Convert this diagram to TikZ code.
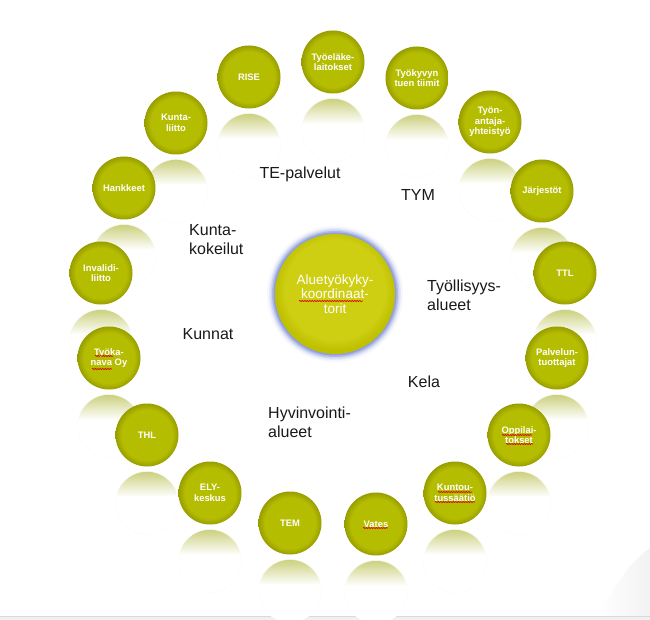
\documentclass[tikz,border=0pt]{standalone}
\usepackage{fontspec}
\setmainfont{Liberation Sans}
\usetikzlibrary{decorations.pathmorphing}
\definecolor{olv}{RGB}{181,189,0}
\definecolor{olvdark}{RGB}{152,158,0}
\definecolor{refl}{RGB}{203,208,125}
\definecolor{ctr}{RGB}{206,206,18}
\definecolor{ctrdark}{RGB}{190,192,0}
\definecolor{glow}{RGB}{110,130,215}
\definecolor{lbltext}{RGB}{25,25,25}
\pgfdeclareradialshading{ballshade}{\pgfpoint{0bp}{0bp}}{color(0bp)=(olv); color(20bp)=(olv); color(25bp)=(olvdark); color(50bp)=(olvdark)}
\pgfdeclareverticalshading{reflshade}{100bp}{color(0bp)=(white); color(55bp)=(white); color(75bp)=(refl); color(100bp)=(refl)}
\pgfdeclareradialshading{ctrshade}{\pgfpoint{0bp}{3bp}}{color(0bp)=(ctr); color(21bp)=(ctr); color(25bp)=(ctrdark); color(50bp)=(ctrdark)}
\begin{document}
\begin{tikzpicture}[x=1pt,y=-1pt,
  ball/.style={circle, minimum size=63pt, inner sep=0pt, shading=ballshade, text=white,
    font=\fontsize{9.4}{10.6}\selectfont\bfseries, align=center},
  reflball/.style={shading=reflshade},
  lbl/.style={font=\fontsize{16}{19}\selectfont, align=left, text=lbltext, inner sep=0pt},
  squig/.style={red!85!black, line width=0.6pt, decorate,
    decoration={snake, amplitude=0.6pt, segment length=2.5pt}}
]
\useasboundingbox (0,0) rectangle (650,620);
\fill[white] (0,0) rectangle (650,620);
% bottom right soft corner and bottom bar
\shade[left color=white, right color=gray!10] (598,616) .. controls (615,585) and (630,562) .. (650,548) -- (650,616) -- cycle;
\fill[gray!12] (0,616) rectangle (650,620);
\draw[gray!30, line width=0.6pt] (0,616) -- (650,616);

% reflections
\foreach \x/\y in {249/77, 333/62, 417/78, 490/122, 542/191, 565/273, 557/358, 519/435,
  455/493, 376/524, 290/523, 210/493, 147/435, 109/358, 101/273, 124/188, 176/123}{
  \path[reflball] (\x,\y+68) circle (31.5);
  \draw[gray!3, line width=0.4pt] (\x,\y+68) circle (31.5);
}

% outer balls
\node[ball] (rise) at (249,77) {RISE};
\node[ball] (tel) at (333,62) {Työeläke-\\laitokset};
\node[ball] (tyk) at (417,78) {Työkyvyn\\tuen tiimit};
\node[ball] (tyn) at (490,122) {Työn-\\antaja-\\yhteistyö};
\node[ball] (jar) at (542,191) {Järjestöt};
\node[ball] (ttl) at (565,273) {TTL};
\node[ball] (pal) at (557,358) {Palvelun-\\tuottajat};
\node[ball] (opp) at (519,435) {Oppilai-\\tokset};
\node[ball] (kun) at (455,493) {Kuntou-\\tussäätiö};
\node[ball] (vat) at (376,524) {Vates};
\node[ball] (tem) at (290,523) {TEM};
\node[ball] (ely) at (210,493) {ELY-\\keskus};
\node[ball] (thl) at (147,435) {THL};
\node[ball] (tka) at (109,358) {Työka-\\nava Oy};
\node[ball] (inv) at (101,273) {Invalidi-\\liitto};
\node[ball] (han) at (124,188) {Hankkeet};
\node[ball] (kli) at (176,123) {Kunta-\\liitto};

% central ball with glow
\foreach \r/\o in {68/0.06, 66/0.12, 64.5/0.2, 63/0.32, 61.5/0.48}{
  \fill[glow, opacity=\o] (335,294) circle (\r);
}
\node[circle, minimum size=120pt, inner sep=0pt, shading=ctrshade, text=white,
  font=\fontsize{13.5}{14.2}\selectfont, align=center] (ctr) at (335,294)
  {Aluetyökyky-\\koordinaat-\\torit};

% labels
\node[lbl] (tep) at (300,174) {TE-palvelut};
\node[lbl] (tym) at (418,195) {TYM};
\node[lbl, anchor=west] (kko) at (189,240) {Kunta-\\kokeilut};
\node[lbl, anchor=west] (tya) at (427,295) {Työllisyys-\\alueet};
\node[lbl] (kunnat) at (208,334) {Kunnat};
\node[lbl] (kela) at (424,382) {Kela};
\node[lbl, anchor=west] (hva) at (268,422.5) {Hyvinvointi-\\alueet};

% spell-check squiggles
\draw[squig] (299,301) -- (363,301);
\draw[squig] (95,356) -- (113,356);
\draw[squig] (92,369) -- (112,369);
\draw[squig] (502,435) -- (532,435);
\draw[squig] (506,444) -- (533,444);
\draw[squig] (438,492) -- (472,492);
\draw[squig] (435,502) -- (475,502);
\draw[squig] (363,528) -- (388,528);
\end{tikzpicture}
\end{document}
